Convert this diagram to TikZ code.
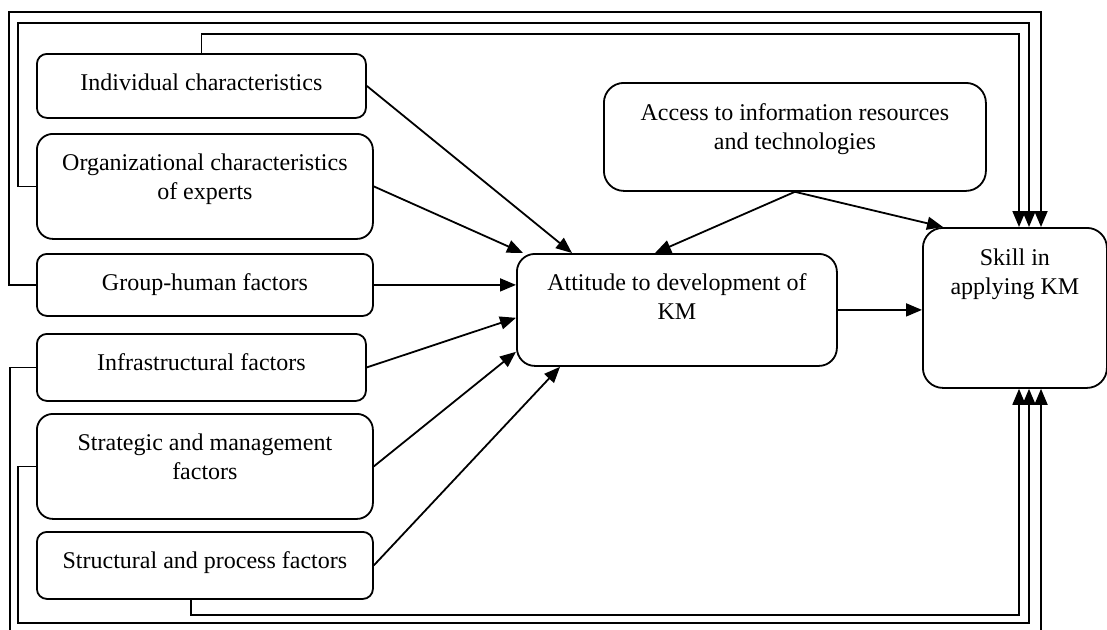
\documentclass[tikz,border=0pt]{standalone}
\usepackage{fontspec}
\setmainfont{Liberation Serif}
\usetikzlibrary{arrows.meta,calc,positioning}
\tikzset{
  box/.style={draw, line width=0.9pt, rounded corners=#1, inner sep=0pt, anchor=north west},
  box/.default=5pt,
  lbl/.style={inner sep=0pt, align=center, font=\fontsize{12}{14.5}\selectfont},
  arr/.style={line width=0.9pt, -{Triangle[length=8pt,width=6.5pt]}},
}
\begin{document}
\begin{tikzpicture}[x=0.5pt,y=-0.5pt]
	\useasboundingbox (0,0) rectangle (1107,629);
	\node[box, minimum width=164.5pt, minimum height=32pt] (ind) at (36,53) {};
	\node[box=8pt, minimum width=168pt, minimum height=52.5pt] (org) at (36,133) {};
	\node[box, minimum width=168pt, minimum height=31pt] (grp) at (36,253) {};
	\node[box, minimum width=164.5pt, minimum height=33.5pt] (inf) at (36,333) {};
	\node[box=8pt, minimum width=168pt, minimum height=52.5pt] (str) at (36,413) {};
	\node[box, minimum width=168pt, minimum height=33.5pt] (prc) at (36,531) {};
	\node[box=9pt, minimum width=160pt, minimum height=56pt] (att) at (516,253) {};
	\node[box=10pt, minimum width=191pt, minimum height=54pt] (acc) at (603,82) {};
	\node[box=10pt, minimum width=92pt, minimum height=80pt] (skl) at (922,227) {};
	\node[lbl, below=8.5pt of ind.north] (indtxt) {\strut Individual characteristics};
	\node[lbl, below=8.5pt of org.north] (orgtxt) {\strut Organizational characteristics\\of experts};
	\node[lbl, below=8.5pt of grp.north] (grptxt) {\strut Group-human factors};
	\node[lbl, below=8.5pt of inf.north] (inftxt) {\strut Infrastructural factors};
	\node[lbl, below=8.5pt of str.north] (strtxt) {\strut Strategic and management\\factors};
	\node[lbl, below=8.5pt of prc.north] (prctxt) {\strut Structural and process factors};
	\node[lbl, below=8.5pt of att.north] (atttxt) {\strut Attitude to development of\\KM};
	\node[lbl, below=9pt of acc.north] (acctxt) {\strut Access to information resources\\and technologies};
	\node[lbl, below=9pt of skl.north] (skltxt) {\strut Skill in\\applying KM};
	\draw[arr] (ind.east) -- ($(att.north west)+(56,0)$);
	\draw[arr] (org.east) -- ($(att.north west)+(7,0)$);
	\draw[arr] (grp.east) -- (att.west |- grp.east);
	\draw[arr] (inf.east) -- ($(att.south west)+(0,-49)$);
	\draw[arr] (str.east) -- ($(att.south west)+(0,-15)$);
	\draw[arr] (prc.east) -- ($(att.south west)+(44,0)$);
	\draw[arr] (acc.south) -- ($(att.north west)+(139,0)$);
	\draw[arr] (acc.south) -- ($(skl.north west)+(21,0)$);
	\draw[arr] (att.east) -- (skl.west |- att.east);
	\draw[arr] (ind.north) -- ++(0,-19) -| ($(skl.north west)+(97,0)$);
	\draw[arr] (org.west) -| (18,23) -| ($(skl.north west)+(107,0)$);
	\draw[arr] (grp.west) -| (9,12) -| ($(skl.north west)+(119,0)$);
	\draw[arr] ($(prc.south west)+(155,0)$) -- ++(0,15) -| ($(skl.south west)+(97,0)$);
	\draw[arr] (str.west) -| (18,623) -| ($(skl.south west)+(107,0)$);
	\draw[arr] (inf.west) -| (10,632) -| ($(skl.south west)+(119,0)$);
\end{tikzpicture}
\end{document}
